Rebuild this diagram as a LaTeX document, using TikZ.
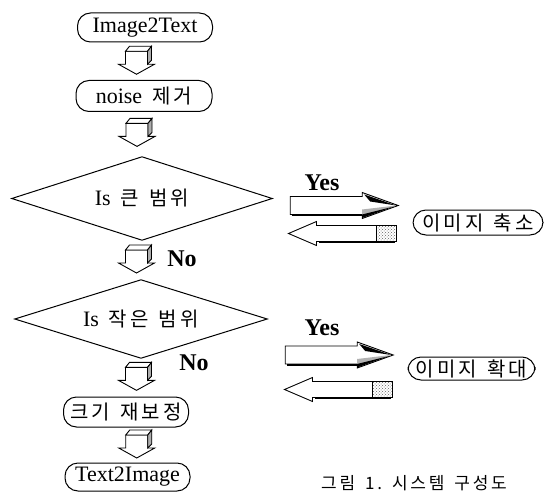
\documentclass[tikz,border=0pt]{standalone}
\usepackage{fontspec}
\setmainfont{Liberation Serif}
\newfontfamily\kr[LetterSpace=16]{Noto Sans CJK KR}
\usetikzlibrary{calc,patterns}
\newcommand\ksp{\hspace{10pt}}
\tikzset{
  rbox/.style={draw, line width=1pt, rounded corners=13pt, inner sep=0pt, font=\fontsize{22}{24}\selectfont},
  kbox/.style={rbox, font=\fontsize{20}{22}\selectfont\kr},
  dtext/.style={inner sep=0pt, font=\fontsize{22}{24}\selectfont},
  dline/.style={line width=1pt, line join=miter},
  lbl/.style={inner sep=0pt, font=\fontsize{24}{26}\selectfont\bfseries},
  blk/.style={line width=0.9pt, line join=miter, fill=white},
  dblk/.pic={
    \draw[blk] (-11,-9) -- (11,-9) -- (11,4) -- (18,4) -- (0,14) -- (-18,4) -- (-11,4) -- cycle;
    \draw[blk] (-11,-9) -- (-7,-14) -- (15,-14) -- (11,-9) -- cycle;
    \draw[blk, fill=gray!65] (11,-9) -- (15,-14) -- (15,0) -- (11,4) -- cycle;
  },
  rblk/.pic={
    \draw[blk] (0,-9) -- (72,-9) -- (72,-13) -- (108,0) -- (72,13) -- (72,9) -- (0,9) -- cycle;
    \fill[gray!60] (72,4) -- (106,0) -- (72,12) -- cycle;
    \fill[black] (74,-11) -- (106,0) -- (80,-4) -- cycle;
    \fill[black] (72,9) -- (104,1) -- (72,12.5) -- cycle;
    \draw[line width=2pt] (2,9.5) -- (72,9.5);
  },
  lblk/.pic={
    \draw[blk] (0,-8) -- (-80,-8) -- (-80,-12) -- (-108,0) -- (-80,12) -- (-80,8) -- (0,8) -- cycle;
    \fill[pattern=crosshatch dots, pattern color=gray!80!black] (-20,-7) rectangle (-1,7);
    \draw[line width=0.9pt] (-20,-8) -- (-20,8);
    \draw[line width=2.2pt] (-78,8.5) -- (-2,8.5);
  }
}
\begin{document}
\begin{tikzpicture}[x=1pt,y=-1pt]
\useasboundingbox[fill=white] (0,0) rectangle (548,492);

% left column
\node[rbox, minimum width=135pt, minimum height=29pt] (i2t) at (145,27.5) {Image2Text};
\node[rbox, minimum width=136pt, minimum height=31pt] (noise) at (144,96) {noise\ksp{\fontsize{20}{22}\selectfont\kr 제거}};

\node[dtext, minimum width=260pt, minimum height=83pt] (d1) at (142,198.5) {Is\ksp{\fontsize{20}{22}\selectfont\kr 큰\ksp 범위}};
\draw[dline] (d1.west) -- (d1.north) -- (d1.east) -- (d1.south) -- cycle;

\node[dtext, minimum width=252pt, minimum height=78pt] (d2) at (141,319) {Is\ksp{\fontsize{20}{22}\selectfont\kr 작은\ksp 범위}};
\draw[dline] (d2.west) -- (d2.north) -- (d2.east) -- (d2.south) -- cycle;

\node[kbox, minimum width=125pt, minimum height=30pt] (fix) at (126,412) {크기\ksp 재보정};
\node[rbox, minimum width=125pt, minimum height=28pt] (t2i) at (127.5,477) {Text2Image};

% right column
\node[kbox, minimum width=130pt, minimum height=25pt] (shrink) at (478,222.5) {이미지\ksp 축소};
\node[kbox, minimum width=127pt, minimum height=23pt] (enl) at (471.5,368.5) {이미지\ksp 확대};

% labels
\node[lbl] (yes1) at (322,183) {Yes};
\node[lbl] (yes2) at (322,328) {Yes};
\node[lbl] (no1) at (182,259) {No};
\node[lbl] (no2) at (194,363) {No};

% down block arrows
\coordinate (a1) at ($(i2t.south)!0.5!(noise.north)+(-8,-1)$);
\coordinate (a2) at ($(noise.south)!0.5!(d1.north)+(-6,-2)$);
\coordinate (a3) at ($(d1.south)!0.5!(d2.north)+(-5,-1)$);
\coordinate (a4) at ($(d2.south)!0.5!(fix.north)+(3,-1)$);
\coordinate (a5) at ($(fix.south)!0.5!(t2i.north)+(10,-1)$);
\foreach \c in {a1,a2,a3,a4,a5} \pic at (\c) {dblk};

% horizontal block arrows
\coordinate (r1) at ($(d1.east)+(18,7)$);
\coordinate (l1) at ($(shrink.west)+(-16,11)$);
\coordinate (r2) at ($(d2.east)+(18,36)$);
\coordinate (l2) at ($(enl.west)+(-15,21)$);
\pic at (r1) {rblk};
\pic at (l1) {lblk};
\pic at (r2) {rblk};
\pic at (l2) {lblk};

% caption
\node[inner sep=0pt, font=\fontsize{17}{20}\selectfont\kr] (cap) at (414,483) {그림\ksp 1.\ksp 시스템\ksp 구성도};
\end{tikzpicture}
\end{document}
